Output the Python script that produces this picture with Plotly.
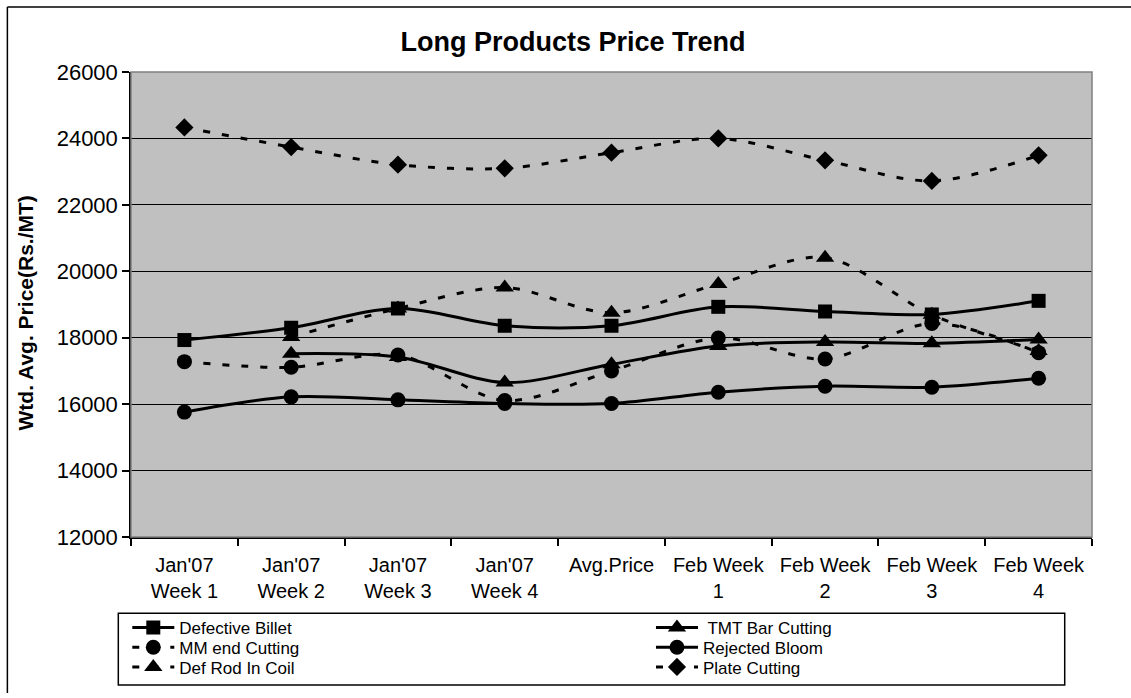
import plotly.graph_objects as go

# Week labels on the category axis
categories = [
    "Jan'07<br>Week 1", "Jan'07<br>Week 2", "Jan'07<br>Week 3", "Jan'07<br>Week 4",
    "Avg.Price", "Feb Week<br>1", "Feb Week<br>2", "Feb Week<br>3", "Feb Week<br>4",
]

# Weighted average prices (Rs./MT)
defective_billet = [17930, 18300, 18880, 18360, 18360, 18930, 18790, 18700, 19110]
tmt_bar_cutting = [None, 17520, 17420, 16650, 17200, 17750, 17870, 17830, 17950]
mm_end_cutting = [17280, 17110, 17480, 16110, 17000, 17990, 17360, 18430, 17550]
rejected_bloom = [15760, 16220, 16130, 16020, 16020, 16360, 16540, 16510, 16780]
def_rod_in_coil = [None, 18020, 18880, 19510, 18750, 19620, 20410, 18690, 17600]
plate_cutting = [24330, 23740, 23210, 23100, 23570, 24000, 23340, 22720, 23490]

y_ticks = [12000, 14000, 16000, 18000, 20000, 22000, 24000, 26000]

W, H = 1131, 698
L, R, T, B = 130.7, 1092.3, 72.0, 544.5
PW, PH = R - L, B - T

FONT = "Liberation Sans, Arial, sans-serif"
DASH = "7px,12px"

# name, values, symbol, dash, legend id, legend anchor (left px, row centre px)
series = [
    ("Defective Billet", defective_billet, "square", "solid", "legend", (127, 637)),
    (" TMT Bar Cutting", tmt_bar_cutting, "triangle-up", "solid", "legend2", (651, 637)),
    ("MM end Cutting", mm_end_cutting, "circle", DASH, "legend3", (127, 657)),
    ("Rejected Bloom", rejected_bloom, "circle", "solid", "legend4", (651, 657)),
    ("Def Rod In Coil", def_rod_in_coil, "triangle-up", DASH, "legend5", (127, 677)),
    ("Plate Cutting", plate_cutting, "diamond", DASH, "legend6", (651, 677)),
]
marker_size = {"square": 14, "triangle-up": 16, "circle": 15, "diamond": 14}


def px_x(x):
    return (x - L) / PW


def px_y(y):
    return (B - y) / PH


fig = go.Figure()
legends = {}
for name, vals, sym, dash, leg, (lx, ly) in series:
    fig.add_trace(go.Scatter(
        x=categories, y=vals, name=name, mode="lines+markers",
        line=dict(color="black", width=3, dash=dash, shape="spline", smoothing=0.9),
        marker=dict(symbol=sym, size=marker_size[sym], color="black", line=dict(width=0)),
        legend=leg, connectgaps=False,
    ))
    legends[leg] = dict(
        x=px_x(lx), y=px_y(ly), xanchor="left", yanchor="middle",
        orientation="v", bgcolor="rgba(0,0,0,0)", borderwidth=0,
        font=dict(family=FONT, size=17, color="black"),
        itemwidth=42, itemclick=False, itemdoubleclick=False,
    )

shapes = [
    # plot area frame
    dict(type="rect", xref="paper", yref="paper", x0=0, x1=1, y0=0, y1=1,
         line=dict(color="#808080", width=1.5)),
    # outer chart frame (top and left edges)
    dict(type="line", xref="paper", yref="paper", x0=px_x(7), x1=px_x(W + 5), y0=px_y(6), y1=px_y(6),
         line=dict(color="black", width=1.5)),
    dict(type="line", xref="paper", yref="paper", x0=px_x(7), x1=px_x(7), y0=px_y(6), y1=px_y(H + 5),
         line=dict(color="black", width=1.5)),
    # legend box
    dict(type="rect", xref="paper", yref="paper", x0=px_x(118), x1=px_x(1065), y0=px_y(622), y1=px_y(695),
         line=dict(color="black", width=1.5)),
]

fig.update_layout(
    width=W, height=H,
    margin=dict(l=L, r=W - R, t=T, b=H - B, pad=0),
    paper_bgcolor="white", plot_bgcolor="#C0C0C0",
    font=dict(family=FONT, color="black"),
    title=dict(text="<b>Long Products Price Trend</b>", x=573 / W, xref="container", xanchor="center",
               y=1 - 42 / H, yref="container", yanchor="middle",
               font=dict(family=FONT, size=27, color="black")),
    xaxis=dict(
        type="category", categoryorder="array", categoryarray=categories,
        range=[-0.5, len(categories) - 0.5],
        showgrid=False, zeroline=False,
        showline=True, linecolor="black", linewidth=1.5,
        ticks="outside", tickson="boundaries", ticklen=7, tickcolor="black", tickwidth=1.5,
        ticklabelstandoff=9,
        tickfont=dict(family=FONT, size=20, color="black"),
    ),
    yaxis=dict(
        range=[12000, 26000], tickvals=y_ticks, ticktext=[str(v) for v in y_ticks],
        showgrid=True, gridcolor="black", gridwidth=1, zeroline=False,
        showline=True, linecolor="black", linewidth=1.5,
        ticks="outside", ticklen=7, tickcolor="black", tickwidth=1.5,
        tickfont=dict(family=FONT, size=22, color="black"),
    ),
    showlegend=True,
    shapes=shapes,
    annotations=[dict(
        text="<b>Wtd. Avg. Price(Rs./MT)</b>", textangle=-90,
        xref="paper", yref="paper", x=px_x(25), y=px_y(317),
        xanchor="center", yanchor="middle", showarrow=False,
        font=dict(family=FONT, size=21, color="black"),
    )],
    **legends,
)

fig.write_html("out.html")
